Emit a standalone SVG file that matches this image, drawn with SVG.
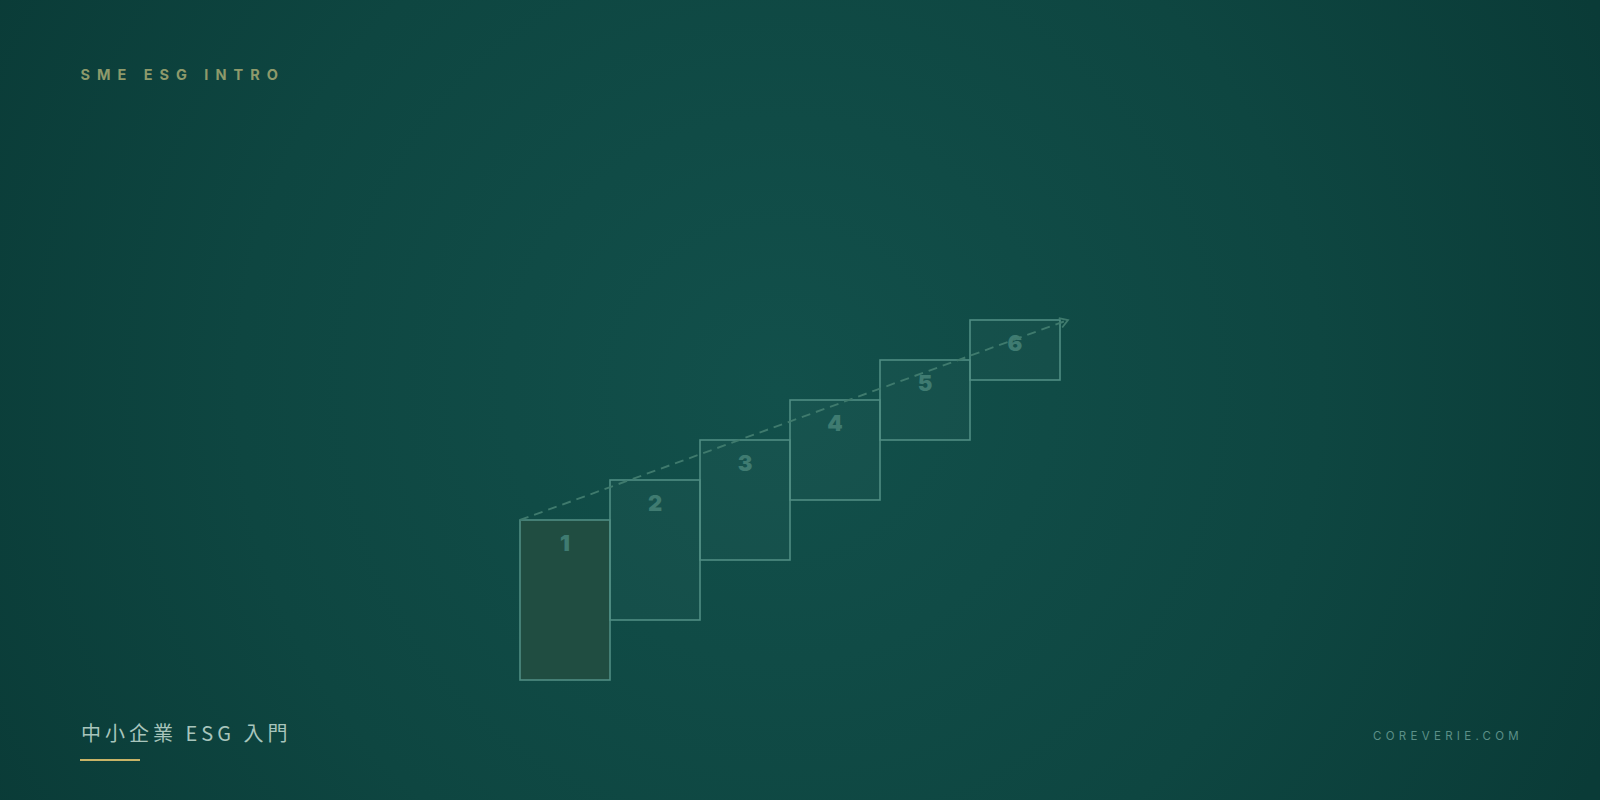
<svg xmlns="http://www.w3.org/2000/svg" width="1600" height="800" viewBox="0 0 1600 800">
<defs>
<radialGradient id="bg" cx="780" cy="390" r="900" gradientUnits="userSpaceOnUse">
<stop offset="0" stop-color="#12504b"/>
<stop offset="0.6" stop-color="#0e4641"/>
<stop offset="1" stop-color="#0a3b37"/>
</radialGradient>
<marker id="arr" viewBox="0 0 12 12" refX="10" refY="6" markerWidth="12" markerHeight="12" markerUnits="userSpaceOnUse" orient="auto">
<path d="M2,1 L10,6 L2,11" fill="none" stroke="#3f7a6d" stroke-width="1.8"/>
</marker>
</defs>
<style>
.step{fill:#ffffff;fill-opacity:0.025;stroke:#4f8d83;stroke-width:1.6}
.first{fill:#204d41;fill-opacity:1}
.num{font-family:Inter,"Liberation Sans",sans-serif;font-weight:900;font-size:22px;fill:#3f7b71;text-anchor:middle}
.conn{fill:none;stroke:#3f7a6d;stroke-width:1.9;stroke-dasharray:9 6}
</style>
<rect width="1600" height="800" fill="url(#bg)"/>
<text x="80.5" y="79.5" font-family="Inter,'Liberation Sans',sans-serif" font-weight="700" font-size="14.5" letter-spacing="7" fill="#8e9a6b">SME ESG INTRO</text>
<g id="step1"><rect class="step first" x="520" y="520" width="90" height="160"/><text class="num" x="565" y="551">1</text></g>
<g id="step2"><rect class="step" x="610" y="480" width="90" height="140"/><text class="num" x="655" y="511">2</text></g>
<g id="step3"><rect class="step" x="700" y="440" width="90" height="120"/><text class="num" x="745" y="471">3</text></g>
<g id="step4"><rect class="step" x="790" y="400" width="90" height="100"/><text class="num" x="835" y="431">4</text></g>
<g id="step5"><rect class="step" x="880" y="360" width="90" height="80"/><text class="num" x="925" y="391">5</text></g>
<g id="step6"><rect class="step" x="970" y="320" width="90" height="60"/><text class="num" x="1015" y="351">6</text></g>
<g id="connectors"><path class="conn" d="M520,520 L1068,320" marker-end="url(#arr)"/></g>
<text x="81" y="741" font-family="'Noto Sans CJK TC','Noto Sans',sans-serif" font-size="20" letter-spacing="4" fill="#a8c5bc">中小企業 ESG 入門</text>
<line x1="80" y1="760" x2="140" y2="760" stroke="#c8b467" stroke-width="2"/>
<text x="1373" y="740" font-family="Inter,'Liberation Sans',sans-serif" font-size="11.5" letter-spacing="4.3" fill="#5c9088">COREVERIE.COM</text>
</svg>
